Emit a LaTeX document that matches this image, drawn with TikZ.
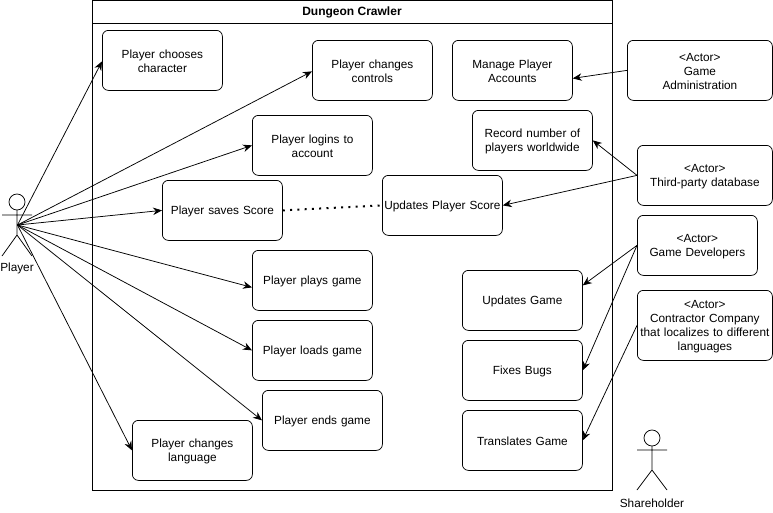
\documentclass[tikz,border=0pt]{standalone}
\usepackage{fontspec}
\setmainfont{Liberation Sans}
\usetikzlibrary{arrows.meta}
\begin{document}
\begin{tikzpicture}[x=1pt,y=-1pt,
 ucbox/.style={draw=black,line width=0.75pt,rounded corners=6pt,minimum width=120pt,minimum height=60pt,align=center,font=\fontsize{11.8}{14}\selectfont,inner sep=1pt,text width=118pt,anchor=north west,execute at begin node={\rule{0pt}{11pt}}},
 arr/.style={draw=black,line width=0.75pt,-{Stealth[length=9pt,width=7.5pt]}},
 lbl/.style={font=\fontsize{11.8}{14}\selectfont,align=center,inner sep=0pt}]
\useasboundingbox (0,0) rectangle (773,512);
\path[fill=white] (0,0) rectangle (773,512);
\node[draw=black,line width=0.75pt,minimum width=520pt,minimum height=490pt,anchor=north west,inner sep=0pt] (sys) at (92,0) {};
\draw[line width=0.75pt] (92,23) coordinate (tl) -- (612,23) coordinate (tr);
\node[font=\fontsize{12}{14.5}\selectfont\bfseries,inner sep=0pt] (title) at (352,12.5) {Dungeon Crawler};
\node[ucbox] (choose) at (102,30) {Player chooses\\character};
\node[ucbox] (controls) at (312,40) {Player changes\\controls};
\node[ucbox] (manage) at (452,40) {Manage Player\\Accounts};
\node[ucbox] (login) at (252,115) {Player logins to\\account};
\node[ucbox] (record) at (472,110) {Record number of\\players worldwide};
\node[ucbox] (saves) at (162,180) {Player saves Score};
\node[ucbox] (updscore) at (382,175) {\mbox{Updates Player Score}};
\node[ucbox] (plays) at (252,250) {Player plays game};
\node[ucbox] (updgame) at (462,270) {Updates Game};
\node[ucbox] (loads) at (252,320) {Player loads game};
\node[ucbox] (fixes) at (462,340) {Fixes Bugs};
\node[ucbox] (ends) at (262,390) {Player ends game};
\node[ucbox] (lang) at (132,420) {Player changes\\language};
\node[ucbox] (translates) at (462,410) {Translates Game};
\node[ucbox,minimum width=145pt,text width=141pt] (admin) at (627,40) {<Actor>\\Game\\Administration};
\node[ucbox,minimum width=135pt,text width=131pt] (third) at (637,145) {<Actor>\\Third-party database};
\node[ucbox,minimum width=120pt] (dev) at (637,215) {<Actor>\\Game Developers};
\node[ucbox,minimum width=135pt,minimum height=70pt,text width=133pt] (contract) at (637,290) {<Actor>\\Contractor Company\\that localizes to different\\languages};
% actors
\coordinate (pl) at (17.5,225);
\draw[line width=0.75pt] (17,202) circle (8pt);
\draw[line width=0.75pt] (17,210) -- (17,235) (2,215) -- (32,215) (17,235) -- (2,256) (17,235) -- (32,256);
\node[lbl] (player) at (17,268.5) {Player};
\draw[line width=0.75pt] (652,438) circle (8pt);
\draw[line width=0.75pt] (652,446) -- (652,470) (637,450) -- (667,450) (652,470) -- (637,490) (652,470) -- (667,490);
\node[lbl] (share) at (652,503.5) {Shareholder};
% connectors
\draw[arr] (pl) -- ([yshift=-1pt]choose.west);
\draw[arr] (pl) -- ([yshift=-1pt]controls.west);
\draw[arr] (pl) -- (login.west);
\draw[arr] (pl) -- (saves.west);
\draw[arr] (pl) -- ([yshift=-7pt]plays.west);
\draw[arr] (pl) -- (loads.west);
\draw[arr] (pl) -- (ends.west);
\draw[arr] (pl) -- (lang.west);
\draw[arr] (admin.west) -- ([yshift=-8pt]manage.east);
\draw[arr] (third.west) -- (record.east);
\draw[arr] (third.west) -- (updscore.east);
\draw[arr] (dev.west) -- ([yshift=15pt]updgame.east);
\draw[arr] (dev.west) -- (fixes.east);
\draw[arr] (contract.west) -- (translates.east);
\draw[line width=2pt,dash pattern=on 2pt off 5.3pt] (saves.east) -- (updscore.west);
\end{tikzpicture}
\end{document}
